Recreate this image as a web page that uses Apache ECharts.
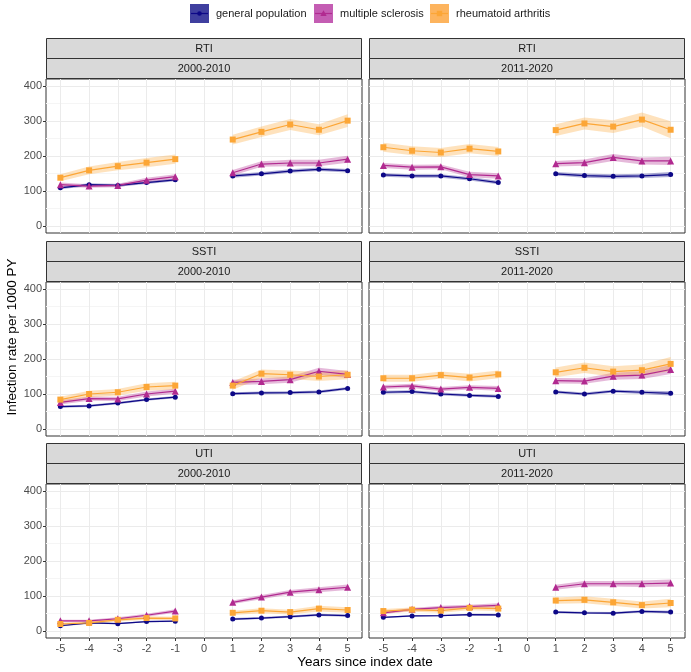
<!DOCTYPE html>
<html>
<head>
<meta charset="utf-8">
<script src="https://cdn.jsdelivr.net/npm/echarts@6/dist/echarts.min.js"></script>
<style>
  html, body { margin: 0; padding: 0; background: #fff; }
  #chart { width: 691px; height: 672px; }
</style>
</head>
<body>
<div id="chart"></div>
<script>
// years since index date (no year 0)
var years = [-5, -4, -3, -2, -1, 1, 2, 3, 4, 5]
var xTicks = [-5, -4, -3, -2, -1, 0, 1, 2, 3, 4, 5]
var yTicks = [0, 100, 200, 300, 400]
var yMinor = [50, 150, 250, 350]
var groups = ['general population', 'multiple sclerosis', 'rheumatoid arthritis']

// values per 1000 PY, ci = half width of the ribbon
// RTI 2000-2010
var rtiA_gp = [109, 118, 116, 124, 132, 143, 149, 157, 162, 158]
var rtiA_gp_ci = [4, 4, 4, 4, 4, 5, 5, 5, 5, 5]
var rtiA_ms = [118, 114, 116, 131, 141, 152, 177, 180, 180, 191]
var rtiA_ms_ci = [6, 5, 5, 7, 7, 8, 8, 9, 9, 10]
var rtiA_ra = [138, 159, 171, 181, 191, 247, 269, 290, 275, 301]
var rtiA_ra_ci = [10, 11, 12, 13, 13, 14, 15, 16, 16, 18]
// RTI 2011-2020
var rtiB_gp = [146, 143, 143, 135, 124, 149, 144, 142, 143, 147]
var rtiB_gp_ci = [5, 5, 5, 5, 5, 5, 6, 6, 6, 7]
var rtiB_ms = [173, 168, 169, 147, 143, 178, 181, 196, 186, 186]
var rtiB_ms_ci = [7, 7, 7, 8, 8, 8, 9, 10, 10, 12]
var rtiB_ra = [225, 215, 210, 221, 213, 274, 293, 284, 304, 275]
var rtiB_ra_ci = [13, 13, 13, 13, 13, 17, 17, 18, 20, 24]
// SSTI 2000-2010
var sstiA_gp = [64, 66, 74, 84, 91, 101, 103, 104, 106, 116]
var sstiA_gp_ci = [3, 3, 3, 3, 3, 4, 4, 4, 4, 4]
var sstiA_ms = [76, 87, 86, 100, 108, 133, 136, 141, 165, 156]
var sstiA_ms_ci = [6, 6, 6, 7, 7, 8, 8, 9, 10, 10]
var sstiA_ra = [84, 100, 105, 120, 124, 124, 158, 155, 150, 155]
var sstiA_ra_ci = [8, 9, 9, 11, 11, 12, 12, 12, 13, 13]
// SSTI 2011-2020
var sstiB_gp = [105, 107, 100, 96, 93, 106, 100, 108, 105, 102]
var sstiB_gp_ci = [4, 4, 4, 4, 4, 4, 4, 4, 5, 6]
var sstiB_ms = [120, 123, 114, 119, 116, 138, 137, 151, 154, 170]
var sstiB_ms_ci = [6, 6, 6, 6, 7, 8, 8, 10, 11, 13]
var sstiB_ra = [145, 145, 154, 147, 156, 162, 175, 164, 168, 186]
var sstiB_ra_ci = [10, 10, 10, 11, 11, 14, 15, 15, 16, 20]
// UTI 2000-2010
var utiA_gp = [15, 23, 21, 27, 28, 34, 37, 41, 46, 44]
var utiA_gp_ci = [2, 2, 2, 2, 2, 3, 3, 3, 3, 3]
var utiA_ms = [29, 29, 35, 45, 57, 82, 97, 111, 118, 125]
var utiA_ms_ci = [3, 3, 4, 4, 5, 5, 6, 6, 7, 8]
var utiA_ra = [20, 23, 32, 37, 36, 52, 58, 54, 64, 60]
var utiA_ra_ci = [4, 4, 5, 5, 5, 6, 7, 7, 8, 8]
// UTI 2011-2020
var utiB_gp = [39, 43, 44, 47, 46, 54, 52, 51, 56, 54]
var utiB_gp_ci = [2, 2, 2, 2, 3, 3, 3, 3, 3, 4]
var utiB_ms = [52, 62, 67, 70, 73, 125, 135, 135, 135, 137]
var utiB_ms_ci = [4, 4, 5, 5, 6, 7, 8, 8, 9, 10]
var utiB_ra = [57, 61, 58, 66, 64, 87, 89, 82, 74, 80]
var utiB_ra_ci = [6, 6, 6, 7, 7, 9, 10, 10, 10, 12]

var panels = [
  { inf: 'RTI', period: '2000-2010', vals: [rtiA_gp, rtiA_ms, rtiA_ra], ci: [rtiA_gp_ci, rtiA_ms_ci, rtiA_ra_ci] },
  { inf: 'RTI', period: '2011-2020', vals: [rtiB_gp, rtiB_ms, rtiB_ra], ci: [rtiB_gp_ci, rtiB_ms_ci, rtiB_ra_ci] },
  { inf: 'SSTI', period: '2000-2010', vals: [sstiA_gp, sstiA_ms, sstiA_ra], ci: [sstiA_gp_ci, sstiA_ms_ci, sstiA_ra_ci] },
  { inf: 'SSTI', period: '2011-2020', vals: [sstiB_gp, sstiB_ms, sstiB_ra], ci: [sstiB_gp_ci, sstiB_ms_ci, sstiB_ra_ci] },
  { inf: 'UTI', period: '2000-2010', vals: [utiA_gp, utiA_ms, utiA_ra], ci: [utiA_gp_ci, utiA_ms_ci, utiA_ra_ci] },
  { inf: 'UTI', period: '2011-2020', vals: [utiB_gp, utiB_ms, utiB_ra], ci: [utiB_gp_ci, utiB_ms_ci, utiB_ra_ci] }
]

var colors = ['#0d0887', '#b12a90', '#fca636']
var keyColors = ['#3f3f9f', '#c45db3', '#fdb45e']
var symbols = ['circle', 'triangle', 'rect']
var symbolSizes = [5, 7, 6]
var font = 'Liberation Sans, Arial, sans-serif'

// layout (px)
var colLeft = [46, 369]
var colWidth = 316
var rowTop = [79, 282, 484]
var plotH = 154

var grids = [], xAxes = [], yAxes = [], series = [], graphics = []

// ribbon: whole polygon drawn once, from the first item of the piece
function ribbonItem (fill) {
  return function (params, api) {
    if (params.dataIndexInside !== 0) return null
    var n = params.dataInsideLength
    var top = [], bottom = []
    for (var k = 0; k < n; k++) {
      top.push(api.coord([api.value(0, k), api.value(2, k)]))
      bottom.unshift(api.coord([api.value(0, k), api.value(1, k)]))
    }
    return {
      type: 'polygon',
      shape: { points: top.concat(bottom) },
      style: { fill: fill, opacity: 0.33 }
    }
  }
}

panels.forEach(function (p, i) {
  var row = Math.floor(i / 2), col = i % 2
  var left = colLeft[col], top = rowTop[row]
  var bottomRow = row === 2, leftCol = col === 0

  grids.push({
    left: left, top: top, width: colWidth, height: plotH,
    show: true, backgroundColor: '#fff', borderColor: '#333', borderWidth: 1
  })
  xAxes.push({
    type: 'value', gridIndex: i, min: -5.5, max: 5.5,
    axisLine: { show: false, onZero: false },
    axisTick: { show: bottomRow, customValues: xTicks, length: 3, lineStyle: { color: '#333' } },
    axisLabel: { show: bottomRow, customValues: xTicks, color: '#4d4d4d', fontSize: 11, fontFamily: font, margin: 5 },
    splitLine: { show: true, lineStyle: { color: '#ebebeb', width: 1 } }
  })
  yAxes.push({
    type: 'value', gridIndex: i, min: -20, max: 420, position: 'left',
    axisLine: { show: false, onZero: false },
    axisTick: { show: leftCol, customValues: yTicks, length: 3, lineStyle: { color: '#333' } },
    axisLabel: { show: leftCol, customValues: yTicks, color: '#4d4d4d', fontSize: 11, fontFamily: font, margin: 4 },
    splitLine: { show: true, lineStyle: { color: '#ebebeb', width: 1 } }
  })
  // minor grid lines
  yAxes.push({
    type: 'value', gridIndex: i, min: -20, max: 420, position: 'left',
    axisLine: { show: false, onZero: false },
    axisTick: { show: false, customValues: yMinor },
    axisLabel: { show: false, customValues: yMinor },
    splitLine: { show: true, lineStyle: { color: '#f5f5f5', width: 1 } }
  })

  p.vals.forEach(function (vals, g) {
    var ci = p.ci[g]
    // before and after index date drawn as separate pieces
    ;[[0, 5], [5, 10]].forEach(function (seg) {
      var band = [], line = []
      for (var k = seg[0]; k < seg[1]; k++) {
        band.push([years[k], vals[k] - ci[k], vals[k] + ci[k]])
        line.push([years[k], vals[k]])
      }
      series.push({
        name: groups[g], type: 'custom', xAxisIndex: i, yAxisIndex: i * 2,
        data: band, silent: true, z: 1,
        encode: { x: 0, y: [1, 2] },
        renderItem: ribbonItem(colors[g])
      })
      series.push({
        name: groups[g], type: 'line', xAxisIndex: i, yAxisIndex: i * 2,
        data: line, symbol: symbols[g], symbolSize: symbolSizes[g], z: 3,
        itemStyle: { color: colors[g] },
        lineStyle: { color: colors[g], width: 1.2 }
      })
    })
  })

  // facet strips
  ;[p.inf, p.period].forEach(function (label, s) {
    var y = top - 41 + s * 20
    graphics.push({
      type: 'rect', z: 10,
      shape: { x: left + 0.5, y: y + 0.5, width: colWidth - 1, height: 20 },
      style: { fill: '#d9d9d9', stroke: '#333', lineWidth: 1 }
    })
    graphics.push({
      type: 'text', z: 11, x: left + colWidth / 2, y: y + 11,
      style: { text: label, align: 'center', verticalAlign: 'middle', fontSize: 11, fontFamily: font, fill: '#1a1a1a' }
    })
  })
})

// axis titles
graphics.push({
  type: 'text', x: 365, y: 662,
  style: { text: 'Years since index date', align: 'center', verticalAlign: 'middle', fontSize: 13.5, fontFamily: font, fill: '#000' }
})
graphics.push({
  type: 'text', x: 12, y: 337, rotation: Math.PI / 2,
  style: { text: 'Infection rate per 1000 PY', align: 'center', verticalAlign: 'middle', fontSize: 13.5, fontFamily: font, fill: '#000' }
})

// legend, one component per key so the keys sit where ggplot put them
var legendLeft = [190, 314, 430]
var legends = groups.map(function (g, k) {
  return {
    data: [{ name: g, itemStyle: { color: keyColors[k], opacity: 1 } }],
    left: legendLeft[k], top: 4, padding: 0, icon: 'rect', itemWidth: 19, itemHeight: 19,
    selectedMode: false,
    textStyle: { fontSize: 11, fontFamily: font, color: '#1a1a1a', padding: [0, 0, 0, 2] }
  }
})
// line + point drawn over each key
legendLeft.forEach(function (x0, k) {
  var cx = x0 + 9.5, cy = 13.5
  graphics.push({
    type: 'line', z: 20,
    shape: { x1: x0 + 1, y1: cy, x2: x0 + 18, y2: cy },
    style: { stroke: colors[k], lineWidth: 1.2 }
  })
  if (k === 0) {
    graphics.push({ type: 'circle', z: 21, shape: { cx: cx, cy: cy, r: 2.3 }, style: { fill: colors[k] } })
  } else if (k === 1) {
    graphics.push({ type: 'polygon', z: 21, shape: { points: [[cx, cy - 3.2], [cx - 3.2, cy + 2.4], [cx + 3.2, cy + 2.4]] }, style: { fill: colors[k] } })
  } else {
    graphics.push({ type: 'rect', z: 21, shape: { x: cx - 2.7, y: cy - 2.7, width: 5.4, height: 5.4 }, style: { fill: colors[k] } })
  }
})

var chart = echarts.init(document.getElementById('chart'), null, { renderer: 'canvas' })
chart.setOption({
  animation: false,
  backgroundColor: '#fff',
  textStyle: { fontFamily: font },
  legend: legends,
  grid: grids,
  xAxis: xAxes,
  yAxis: yAxes,
  series: series,
  graphic: graphics
})
</script>
</body>
</html>
